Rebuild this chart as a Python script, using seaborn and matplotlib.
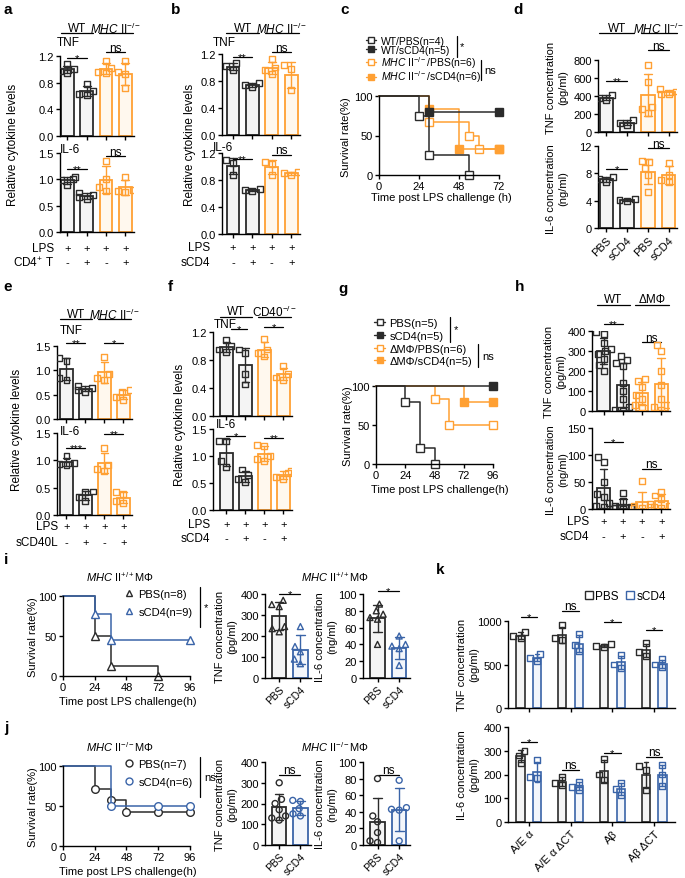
import matplotlib
matplotlib.use("Agg")
import matplotlib.pyplot as plt
import matplotlib.transforms as mtransforms
import pandas as pd
import seaborn as sns
from matplotlib.lines import Line2D
from matplotlib.ticker import FormatStrFormatter

W, H = 685, 879

BLACK = "#2b2b2b"
ORANGE = "#ffa033"
BLUE = "#3a64a8"
FILL_K = "#f4f4f4"
FILL_O = "#fff8ee"
FILL_B = "#f3f6fb"

MHC_KO = r"$\mathit{MHC}$ II$^{-/-}$"
MHC_WT = r"$\mathit{MHC}$ II$^{+/+}$"

# ---------------- data ----------------
# bar panels: one list of replicate values per bar (WT-, WT+, KO-, KO+)
a_tnf = [[1.08, 1.00, 0.97, 0.95], [0.78, 0.68, 0.63, 0.61], [1.13, 1.02, 0.96, 0.94], [1.12, 0.96, 0.93, 0.72]]
a_il6 = [[1.05, 1.00, 0.98, 0.90], [0.75, 0.70, 0.67, 0.62], [1.35, 1.00, 0.85, 0.78], [1.05, 0.80, 0.78, 0.76]]
b_tnf = [[1.06, 1.02, 0.96], [0.77, 0.74, 0.71], [1.12, 1.00, 0.96, 0.90], [1.03, 0.98, 0.67]]
b_il6 = [[1.10, 1.05, 0.88], [0.67, 0.65, 0.63], [1.07, 1.03, 0.88], [0.92, 0.90, 0.88]]
d_tnf = [[410, 380, 360], [130, 100, 80], [740, 560, 280, 260, 210], [480, 450, 420, 420]]
d_il6 = [[7.4, 7.1, 6.8], [4.2, 4.1, 3.9], [9.8, 9.7, 8.8, 7.8, 5.2], [9.5, 7.8, 7.0, 6.7]]
e_tnf = [[1.25, 1.20, 0.85, 0.80], [0.68, 0.64, 0.60, 0.56], [1.28, 0.92, 0.85, 0.80], [0.60, 0.55, 0.45, 0.40]]
e_il6 = [[1.08, 0.95, 0.93, 0.92], [0.43, 0.42, 0.33, 0.25], [1.22, 0.92, 0.85, 0.80], [0.42, 0.38, 0.25, 0.22]]
f_tnf = [[1.08, 1.00, 0.95, 0.92], [0.95, 0.90, 0.60, 0.45], [1.10, 0.95, 0.90, 0.85], [0.72, 0.60, 0.55, 0.52]]
f_il6 = [[1.28, 1.27, 0.90, 0.80], [0.75, 0.65, 0.58, 0.52], [1.20, 1.18, 1.00, 0.95, 0.90], [0.72, 0.68, 0.62, 0.57]]
h_tnf = [[395, 385, 340, 310, 300, 285, 260, 230, 200],
         [275, 255, 240, 225, 140, 100, 60, 20, 5, 0],
         [160, 150, 120, 80, 60, 30, 20],
         [330, 300, 200, 130, 60, 30, 20, 5]]
h_il6 = [[97, 87, 50, 28, 22, 12, 6, 3], [30, 15, 6, 3, 2, 1, 1, 0], [52, 10, 5, 3, 2, 1], [32, 25, 18, 5, 3, 2]]
i_tnf = [[370, 350, 340, 245, 235, 220], [245, 150, 125, 90, 68]]
i_il6 = [[88, 80, 76, 72, 70, 40], [50, 40, 38, 35, 15]]
j_tnf = [[300, 220, 200, 170, 140, 130, 120], [215, 210, 175, 150, 140]]
j_il6 = [[80, 35, 28, 15, 5, 3], [78, 45, 43, 42, 5]]

k_alleles = ["A/E α", "A/E α ΔCT", "Aβ", "Aβ ΔCT"]
k_tnf_pbs = [[870, 830, 800], [950, 800, 780], [740, 710, 700], [750, 640, 600]]
k_tnf_scd4 = [[620, 570, 540], [850, 720, 650], [610, 500, 460], [560, 500, 470]]
k_il6_pbs = [[300, 280, 250], [190, 165, 155], [265, 200, 175], [235, 220, 135]]
k_il6_scd4 = [[260, 190, 185], [170, 148, 135], [165, 140, 115], [240, 200, 150]]

# survival curves: event times (h) and survival (%)
c_wt_pbs_t, c_wt_pbs_s = [0, 24, 30, 54], [100, 75, 25, 0]
c_wt_cd4_t, c_wt_cd4_s = [0, 30, 72], [100, 80, 80]
c_ko_pbs_t, c_ko_pbs_s = [0, 30, 54, 60, 72], [100, 66.7, 50, 33.3, 33.3]
c_ko_cd4_t, c_ko_cd4_s = [0, 30, 48, 72], [100, 83.3, 33.3, 33.3]
g_pbs_t, g_pbs_s = [0, 24, 36, 48], [100, 80, 20, 0]
g_cd4_t, g_cd4_s = [0, 96], [100, 100]
g_dm_pbs_t, g_dm_pbs_s = [0, 48, 60, 96], [100, 83.3, 50, 50]
g_dm_cd4_t, g_dm_cd4_s = [0, 72, 96], [100, 80, 80]
i_pbs_t, i_pbs_s = [0, 24, 36, 72], [100, 50, 12.5, 0]
i_cd4_t, i_cd4_s = [0, 24, 36, 96], [100, 77.8, 44.4, 44.4]
j_pbs_t, j_pbs_s = [0, 24, 36, 48, 72, 96], [100, 71.4, 57.1, 42.9, 42.9, 42.9]
j_cd4_t, j_cd4_s = [0, 36, 72, 96], [100, 50, 50, 50]

lps_signs = ["+", "+", "+", "+"]
treat_signs = ["-", "+", "-", "+"]

# ---------------- style ----------------
sns.set_theme(style="ticks", rc={
    "axes.edgecolor": "black", "axes.linewidth": 1.0,
    "xtick.color": "black", "ytick.color": "black",
    "xtick.major.size": 3, "ytick.major.size": 3,
    "xtick.major.width": 1.0, "ytick.major.width": 1.0,
    "xtick.major.pad": 1.5, "ytick.major.pad": 1.5,
    "xtick.labelsize": 8, "ytick.labelsize": 8,
    "font.size": 8, "text.color": "black",
    "mathtext.fontset": "custom", "mathtext.rm": "Liberation Sans",
    "mathtext.it": "Liberation Sans:italic", "mathtext.bf": "Liberation Sans:bold",
})
plt.rcParams["font.family"] = ["Liberation Sans", "DejaVu Sans"]

fig = plt.figure(figsize=(W / 100, H / 100), dpi=100)

EDGE4 = [BLACK, BLACK, ORANGE, ORANGE]
FILL4 = [FILL_K, FILL_K, FILL_O, FILL_O]


def fy(py):
    return 1 - py / H


def new_ax(l, t, r, b):
    return fig.add_axes([l / W, 1 - b / H, (r - l) / W, (b - t) / H])


def ftext(px, py, s, **kw):
    kw.setdefault("fontsize", 8)
    fig.text(px / W, fy(py), s, **kw)


def blend(ax):
    return mtransforms.blended_transform_factory(ax.transData, fig.transFigure)


def bar_panel(ax, groups, edges, fills, marker="s", width=0.65):
    order = [f"g{i}" for i in range(len(groups))]
    df = pd.DataFrame({
        "bar": [order[i] for i, g in enumerate(groups) for _ in g],
        "val": [v for g in groups for v in g],
    })
    for edge, fill in dict.fromkeys(zip(edges, fills)):
        keep = [order[i] for i in range(len(groups)) if edges[i] == edge]
        sub = df[df["bar"].isin(keep)]
        sns.barplot(data=sub, x="bar", y="val", order=order, color=fill, saturation=1,
                    edgecolor=edge, linewidth=1.3, width=width, errorbar="sd", capsize=0.4,
                    err_kws={"color": edge, "linewidth": 1.0}, ax=ax)
        n0 = len(ax.collections)
        sns.swarmplot(data=sub, x="bar", y="val", order=order, marker=marker, size=4.3,
                      color=edge, edgecolor=edge, linewidth=1.0, ax=ax, zorder=4)
        for coll in ax.collections[n0:]:
            coll.set_facecolor("none")


def finish(ax, ylim, yticks, fmt=None, xlim=None, xlabels=None, xsize=8):
    ax.set_ylim(*ylim)
    ax.set_yticks(yticks)
    if fmt:
        ax.yaxis.set_major_formatter(FormatStrFormatter(fmt))
    if xlim:
        ax.set_xlim(*xlim)
    if xlabels is None:
        ax.set_xticklabels([])
    else:
        ax.set_xticklabels(xlabels, rotation=45, ha="right", rotation_mode="anchor", fontsize=xsize)
    ax.set_xlabel("")
    ax.set_ylabel("")
    sns.despine(ax=ax)


def header(ax, spans, py_text, py_line):
    tr = blend(ax)
    for x1, x2, label in spans:
        ax.text((x1 + x2) / 2, fy(py_text), label, transform=tr, ha="center", va="center", fontsize=8.5)
        ax.plot([x1, x2], [fy(py_line)] * 2, transform=tr, color="black", lw=0.9, clip_on=False)


def sig(ax, x1, x2, py, label):
    tr = blend(ax)
    ax.plot([x1, x2], [fy(py)] * 2, transform=tr, color="black", lw=0.9, clip_on=False)
    if "*" in label:
        ax.text((x1 + x2) / 2, fy(py + 3.5), label, transform=tr, ha="center", va="baseline", fontsize=8)
    else:
        ax.text((x1 + x2) / 2, fy(py - 1.5), label, transform=tr, ha="center", va="baseline", fontsize=8.5)


def sign_rows(ax, label_px, entries):
    tr = blend(ax)
    for label, signs, py in entries:
        ftext(label_px, py, label, ha="right", va="center", fontsize=8.5)
        for i, s in enumerate(signs):
            ax.text(i, fy(py), s, transform=tr, ha="center", va="center", fontsize=8)


def surv_panel(ax, curves, xmax):
    for t, s, color, marker, filled in curves:
        sns.lineplot(x=t, y=s, drawstyle="steps-post", color=color, linewidth=1.1,
                     estimator=None, sort=False, marker=marker,
                     markevery=list(range(1, len(t))), markersize=5.5,
                     markerfacecolor=color if filled else "white",
                     markeredgecolor=color, markeredgewidth=1.0, clip_on=False, ax=ax)
    ax.set_xlim(0, xmax)
    ax.set_ylim(0, 100)
    ax.set_xticks(range(0, xmax + 1, 24))
    ax.set_yticks([0, 50, 100])
    ax.set_xlabel("")
    ax.set_ylabel("")
    sns.despine(ax=ax)


def surv_legend(ax, items, anchor, spacing, line=True, size=8):
    handles = [Line2D([], [], color=c, marker=m, lw=1.0 if line else 0, ms=5,
                      mfc=c if f else "white", mec=c, mew=1.0) for _, c, m, f in items]
    ax.legend(handles, [lab for lab, *_ in items], loc="upper left",
              bbox_to_anchor=(anchor[0] / W, fy(anchor[1])), bbox_transform=fig.transFigure,
              frameon=False, fontsize=size, handlelength=1.0 if line else 0.8, handletextpad=0.4,
              labelspacing=spacing, borderpad=0, borderaxespad=0)


def bracket(px, py1, py2, label, tx):
    fig.add_artist(Line2D([px / W] * 2, [fy(py1), fy(py2)], color="black", lw=0.9))
    ftext(tx, (py1 + py2) / 2, label, ha="left", va="center", fontsize=8)


# ---------------- panel a ----------------
ax = new_ax(60, 57, 134, 137)
bar_panel(ax, a_tnf, EDGE4, FILL4)
finish(ax, (0, 1.2), [0, 0.4, 0.8, 1.2], "%.1f", xlim=(-0.38, 3.45))
header(ax, [(-0.35, 1.35, "WT"), (1.65, 3.4, MHC_KO)], 29, 34)
sig(ax, 0, 1, 59, "*")
sig(ax, 2, 3, 53, "ns")
ax = new_ax(60, 154, 134, 233)
bar_panel(ax, a_il6, EDGE4, FILL4)
finish(ax, (0, 1.5), [0, 0.5, 1.0, 1.5], "%.1f", xlim=(-0.38, 3.45))
sig(ax, 0, 1, 170, "**")
sig(ax, 2, 3, 157, "ns")
sign_rows(ax, 54, [("LPS", lps_signs, 249), (r"CD4$^{+}$ T", treat_signs, 263)])
ftext(57, 43, "TNF", ha="left", va="center", fontsize=8.5)
ftext(60, 150, "IL-6", ha="left", va="center", fontsize=8.5)
ftext(13, 145, "Relative cytokine levels", rotation=90, ha="center", va="center", fontsize=8.5)

# ---------------- panel b ----------------
ax = new_ax(222, 55, 300, 136)
bar_panel(ax, b_tnf, EDGE4, FILL4)
finish(ax, (0, 1.2), [0, 0.4, 0.8, 1.2], "%.1f", xlim=(-0.56, 3.45))
header(ax, [(-0.35, 1.35, "WT"), (1.65, 3.4, MHC_KO)], 29, 34)
sig(ax, 0, 1, 58, "**")
sig(ax, 2, 3, 53, "ns")
ax = new_ax(222, 154, 300, 235)
bar_panel(ax, b_il6, EDGE4, FILL4)
finish(ax, (0, 1.2), [0, 0.4, 0.8, 1.2], "%.1f", xlim=(-0.56, 3.45))
sig(ax, 0, 1, 160, "**")
sig(ax, 2, 3, 156, "ns")
sign_rows(ax, 210, [("LPS", lps_signs, 248), ("sCD4", treat_signs, 263)])
ftext(213, 43, "TNF", ha="left", va="center", fontsize=8.5)
ftext(213, 148, "IL-6", ha="left", va="center", fontsize=8.5)
ftext(190, 145, "Relative cytokine levels", rotation=90, ha="center", va="center", fontsize=8.5)

# ---------------- panel c ----------------
ax = new_ax(379, 97, 499, 176)
c_items = [("WT/PBS(n=4)", BLACK, "s", False), ("WT/sCD4(n=5)", BLACK, "s", True),
           (MHC_KO + "/PBS(n=6)", ORANGE, "s", False), (MHC_KO + "/sCD4(n=6)", ORANGE, "s", True)]
surv_panel(ax, [(c_ko_pbs_t, c_ko_pbs_s, ORANGE, "s", False), (c_ko_cd4_t, c_ko_cd4_s, ORANGE, "s", True),
                (c_wt_pbs_t, c_wt_pbs_s, BLACK, "s", False), (c_wt_cd4_t, c_wt_cd4_s, BLACK, "s", True)], 72)
surv_legend(ax, c_items, (366, 37), -0.1, size=7.5)
bracket(457, 37, 58, "*", 460)
bracket(481, 61, 81, "ns", 484)
ftext(346, 137, "Survival rate(%)", rotation=90, ha="center", va="center")
ftext(441, 198, "Time post LPS challenge (h)", ha="center", va="center")

# ---------------- panel d ----------------
ax = new_ax(598, 61, 677, 133)
bar_panel(ax, d_tnf, EDGE4, FILL4)
finish(ax, (0, 800), [0, 200, 400, 600, 800], xlim=(-0.4, 3.4))
header(ax, [(-0.35, 1.35, "WT"), (1.65, 3.4, MHC_KO)], 29, 34)
sig(ax, 0, 1, 82, "**")
sig(ax, 2, 3, 51, "ns")
ax = new_ax(598, 147, 677, 229)
bar_panel(ax, d_il6, EDGE4, FILL4)
finish(ax, (0, 12), [0, 4, 8, 12], xlim=(-0.4, 3.4), xlabels=["PBS", "sCD4", "PBS", "sCD4"])
sig(ax, 0, 1, 170, "*")
sig(ax, 2, 3, 149, "ns")
ftext(557, 88, "TNF concentration\n(pg/ml)", rotation=90, ha="center", va="center", linespacing=1.2)
ftext(557, 189, "IL-6 concentration\n(ng/ml)", rotation=90, ha="center", va="center", linespacing=1.2)

# ---------------- panel e ----------------
ax = new_ax(57, 347, 132, 420)
bar_panel(ax, e_tnf, EDGE4, FILL4)
finish(ax, (0, 1.5), [0, 0.5, 1.0, 1.5], "%.1f", xlim=(-0.5, 3.45))
header(ax, [(-0.35, 1.35, "WT"), (1.65, 3.4, MHC_KO)], 315, 320)
sig(ax, 0, 1, 344, "**")
sig(ax, 2, 3, 344, "*")
ax = new_ax(57, 434, 132, 516)
bar_panel(ax, e_il6, EDGE4, FILL4)
finish(ax, (0, 1.5), [0, 0.5, 1.0, 1.5], "%.1f", xlim=(-0.5, 3.45))
sig(ax, 0, 1, 449, "***")
sig(ax, 2, 3, 435, "**")
sign_rows(ax, 58, [("LPS", lps_signs, 527), ("sCD40L", treat_signs, 543)])
ftext(60, 331, "TNF", ha="left", va="center", fontsize=8.5)
ftext(60, 432, "IL-6", ha="left", va="center", fontsize=8.5)
ftext(17, 430, "Relative cytokine levels", rotation=90, ha="center", va="center", fontsize=8.5)

# ---------------- panel f ----------------
ax = new_ax(213, 333, 292, 417)
bar_panel(ax, f_tnf, EDGE4, FILL4)
finish(ax, (0, 1.2), [0, 0.4, 0.8, 1.2], "%.1f", xlim=(-0.7, 3.45))
header(ax, [(-0.35, 1.35, "WT"), (1.65, 3.4, r"CD40$^{-/-}$")], 312, 318)
sig(ax, 0.25, 1.1, 330, "*")
sig(ax, 2, 3, 328, "*")
ax = new_ax(213, 430, 292, 511)
bar_panel(ax, f_il6, EDGE4, FILL4)
finish(ax, (0, 1.5), [0, 0.5, 1.0, 1.5], "%.1f", xlim=(-0.7, 3.45))
sig(ax, 0, 1, 437, "*")
sig(ax, 2, 3, 439, "**")
sign_rows(ax, 210, [("LPS", lps_signs, 525), ("sCD4", treat_signs, 539)])
ftext(214, 325, "TNF", ha="left", va="center", fontsize=8.5)
ftext(216, 425, "IL-6", ha="left", va="center", fontsize=8.5)
ftext(180, 425, "Relative cytokine levels", rotation=90, ha="center", va="center", fontsize=8.5)

# ---------------- panel g ----------------
ax = new_ax(376, 387, 493, 465)
g_items = [("PBS(n=5)", BLACK, "s", False), ("sCD4(n=5)", BLACK, "s", True),
           ("ΔMΦ/PBS(n=6)", ORANGE, "s", False), ("ΔMΦ/sCD4(n=5)", ORANGE, "s", True)]
surv_panel(ax, [(g_dm_pbs_t, g_dm_pbs_s, ORANGE, "s", False), (g_dm_cd4_t, g_dm_cd4_s, ORANGE, "s", True),
                (g_pbs_t, g_pbs_s, BLACK, "s", False), (g_cd4_t, g_cd4_s, BLACK, "s", True)], 96)
surv_legend(ax, g_items, (374, 319), 0.25)
bracket(450, 318, 343, "*", 454)
bracket(478, 345, 368, "ns", 482)
ftext(348, 426, "Survival rate(%)", rotation=90, ha="center", va="center")
ftext(440, 490, "Time post LPS challenge(h)", ha="center", va="center")

# ---------------- panel h ----------------
ax = new_ax(592, 332, 670, 412)
bar_panel(ax, h_tnf, EDGE4, FILL4)
finish(ax, (0, 400), [0, 100, 200, 300, 400], xlim=(-0.6, 3.45))
header(ax, [(-0.35, 1.35, "WT"), (1.65, 3.4, "ΔMΦ")], 300, 306)
sig(ax, 0, 1, 325, "**")
sig(ax, 2, 3, 343, "ns")
ax = new_ax(592, 429, 670, 510)
bar_panel(ax, h_il6, EDGE4, FILL4)
finish(ax, (0, 150), [0, 50, 100, 150], xlim=(-0.6, 3.45))
sig(ax, 0, 1, 443, "*")
sig(ax, 2, 3, 470, "ns")
sign_rows(ax, 589, [("LPS", lps_signs, 522), ("sCD4", treat_signs, 537)])
ftext(555, 372, "TNF concentration\n(pg/ml)", rotation=90, ha="center", va="center", linespacing=1.2)
ftext(557, 470, "IL-6 concentration\n(ng/ml)", rotation=90, ha="center", va="center", linespacing=1.2)

# ---------------- panels i and j ----------------
rows_ij = [
    (597, (595, 679), i_tnf, i_il6, "^", MHC_WT + "MΦ",
     [(i_pbs_t, i_pbs_s), (i_cd4_t, i_cd4_s)], ["PBS(n=8)", "sCD4(n=9)"], "*", ("*", "*"),
     (595, 592)),
    (767, (763, 846), j_tnf, j_il6, "o", MHC_KO + "MΦ",
     [(j_pbs_t, j_pbs_s), (j_cd4_t, j_cd4_s)], ["PBS(n=7)", "sCD4(n=6)"], "ns", ("ns", "ns"),
     (776, 776)),
]
for top, (bt, bb), tnf, il6, mk, title, curves, labels, surv_sig, bar_sigs, sig_y in rows_ij:
    ax = new_ax(63, top, 190, top + 80)
    surv_panel(ax, [(curves[0][0], curves[0][1], BLACK, mk, False),
                    (curves[1][0], curves[1][1], BLUE, mk, False)], 96)
    surv_legend(ax, [(labels[0], BLACK, mk, False), (labels[1], BLUE, mk, False)],
                (125, top - 7), 0.75, line=False)
    bracket(200, top - 9, top + 31, surv_sig, 204)
    ftext(33, top + 40, "Survival rate(%)", rotation=90, ha="center", va="center")
    ftext(128, top + 105, "Time post LPS challenge(h)", ha="center", va="center")
    ftext(120, top - 20, title, ha="center", va="center")
    ftext(335, top - 20, title, ha="center", va="center")

    ax = new_ax(265, bt, 311, bb)
    bar_panel(ax, tnf, [BLACK, BLUE], [FILL_K, FILL_B], marker=mk, width=0.67)
    finish(ax, (0, 400), [0, 100, 200, 300, 400], xlim=(-0.67, 1.5), xlabels=["PBS", "sCD4"], xsize=7.5)
    sig(ax, 0, 1, sig_y[0], bar_sigs[0])
    ftext(226, (bt + bb) / 2, "TNF concentration\n(pg/ml)", rotation=90, ha="center", va="center", linespacing=1.2)

    ax = new_ax(363, bt, 410, bb)
    bar_panel(ax, il6, [BLACK, BLUE], [FILL_K, FILL_B], marker=mk, width=0.67)
    finish(ax, (0, 100), [0, 20, 40, 60, 80, 100], xlim=(-0.67, 1.5), xlabels=["PBS", "sCD4"], xsize=7.5)
    sig(ax, 0, 1, sig_y[1], bar_sigs[1])
    ftext(326, (bt + bb) / 2, "IL-6 concentration\n(ng/ml)", rotation=90, ha="center", va="center", linespacing=1.2)

# ---------------- panel k ----------------
k_conds = ["PBS", "sCD4"]


def k_panel(ax, pbs, scd4):
    rows = []
    for cond, vals in zip(k_conds, [pbs, scd4]):
        for allele, reps in zip(k_alleles, vals):
            rows += [{"allele": allele, "cond": cond, "val": v} for v in reps]
    df = pd.DataFrame(rows)
    for cond, edge, fill in [("PBS", BLACK, FILL_K), ("sCD4", BLUE, FILL_B)]:
        sub = df[df["cond"] == cond]
        sns.barplot(data=sub, x="allele", y="val", hue="cond", order=k_alleles, hue_order=k_conds,
                    palette={c: fill for c in k_conds}, saturation=1, dodge=True, width=0.8, gap=0.5,
                    edgecolor=edge, linewidth=1.2, errorbar="sd", capsize=0.2,
                    err_kws={"color": edge, "linewidth": 1.0}, legend=False, ax=ax)
        n0 = len(ax.collections)
        sns.swarmplot(data=sub, x="allele", y="val", hue="cond", order=k_alleles, hue_order=k_conds,
                      palette={c: edge for c in k_conds}, dodge=True, marker="s", size=4.3,
                      edgecolor=edge, linewidth=1.0, legend=False, ax=ax, zorder=4)
        for coll in ax.collections[n0:]:
            coll.set_facecolor("none")


ax = new_ax(508, 622, 675, 709)
k_panel(ax, k_tnf_pbs, k_tnf_scd4)
finish(ax, (0, 1000), [0, 500, 1000], xlim=(-0.5, 3.5))
for xc, py, lab in zip(range(4), [618, 612, 623, 631], ["*", "ns", "*", "*"]):
    sig(ax, xc - 0.2, xc + 0.2, py, lab)
k_handles = [Line2D([], [], marker="s", ls="none", mfc="none", mec=c, mew=1.0, ms=5.5) for c in [BLACK, BLUE]]
ax.legend(k_handles, k_conds, ncol=2, loc="center", bbox_to_anchor=(625 / W, fy(597)),
          bbox_transform=fig.transFigure, frameon=False, fontsize=8.5, handletextpad=0.1,
          columnspacing=0.6, handlelength=0.8, borderpad=0, borderaxespad=0)
ftext(468, 665, "TNF concentration\n(pg/ml)", rotation=90, ha="center", va="center", linespacing=1.2)

ax = new_ax(508, 728, 675, 823)
k_panel(ax, k_il6_pbs, k_il6_scd4)
finish(ax, (0, 400), [0, 100, 200, 300, 400], xlim=(-0.5, 3.5), xlabels=k_alleles)
for xc, py, lab in zip(range(4), [743, 771, 754, 758], ["*", "ns", "*", "ns"]):
    sig(ax, xc - 0.2, xc + 0.2, py, lab)
ftext(468, 775, "IL-6 concentration\n(pg/ml)", rotation=90, ha="center", va="center", linespacing=1.2)

# ---------------- panel letters ----------------
for lab, px, py in [("a", 8, 10), ("b", 176, 10), ("c", 345, 10), ("d", 518, 10),
                    ("e", 8, 287), ("f", 170, 287), ("g", 343, 289), ("h", 520, 287),
                    ("i", 6, 560), ("j", 6, 728), ("k", 440, 570)]:
    ftext(px, py, lab, ha="center", va="center", fontsize=11, fontweight="bold")

fig.savefig("out.png", dpi=100)
